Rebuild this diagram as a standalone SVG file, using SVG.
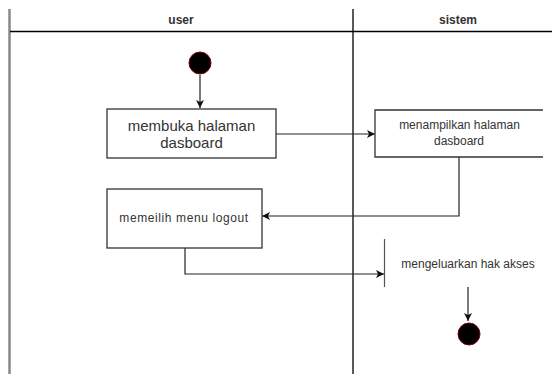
<svg xmlns="http://www.w3.org/2000/svg" width="552" height="374" viewBox="0 0 552 374">
  <style>
    .lane { stroke: #000; stroke-width: 1.3; fill: none; }
    .box { fill: #fff; stroke: #333; stroke-width: 1.3; }
    .edge { stroke: #222; stroke-width: 1.2; fill: none; }
    .txt { font-family: "Liberation Sans", Arial, sans-serif; fill: #333; text-anchor: middle; }
    .hdr { font-family: "Liberation Sans", Arial, sans-serif; font-size: 12px; font-weight: bold; fill: #333; text-anchor: middle; }
    .dot { fill: #000; stroke: #8b0010; stroke-width: 1; }
  </style>
  <defs>
    <marker id="arrow" markerWidth="10" markerHeight="10" refX="9" refY="5" orient="auto" markerUnits="userSpaceOnUse">
      <path d="M1,1 L9,5 L1,9 L3,5 Z" fill="#111"/>
    </marker>
  </defs>
  <rect width="552" height="374" fill="#fff"/>

  <!-- swimlanes -->
  <g id="lanes">
    <line x1="9.5" y1="9" x2="9.5" y2="374" stroke="#888" stroke-width="2.5"/>
    <line class="lane" x1="10" y1="31.5" x2="552" y2="31.5"/>
    <line class="lane" x1="353" y1="9" x2="353" y2="374"/>
    <text class="hdr" x="181" y="24">user</text>
    <text class="hdr" x="458" y="24">sistem</text>
  </g>

  <!-- connectors -->
  <g id="connectors">
    <line class="edge" x1="200" y1="75" x2="200" y2="108" marker-end="url(#arrow)"/>
    <line class="edge" x1="276" y1="134" x2="375" y2="134" marker-end="url(#arrow)"/>
    <polyline class="edge" points="459,157 459,216 262,216" marker-end="url(#arrow)"/>
    <polyline class="edge" points="185,248 185,274 384,274" marker-end="url(#arrow)"/>
    <line class="edge" x1="468" y1="287" x2="468" y2="321" marker-end="url(#arrow)"/>
  </g>

  <g id="start">
    <circle class="dot" cx="200" cy="63" r="11"/>
  </g>

  <g id="membuka-halaman">
    <rect class="box" x="107" y="109" width="169" height="49"/>
    <text class="txt" x="191.5" y="131" font-size="15" fill="#222">membuka halaman</text>
    <text class="txt" x="191.5" y="148" font-size="15" fill="#222">dasboard</text>
  </g>

  <g id="menampilkan-halaman">
    <path d="M543,110 H375 V157 H543" fill="#fff" stroke="#333" stroke-width="1.3"/>
    <text class="txt" x="459.5" y="129" font-size="12">menampilkan halaman</text>
    <text class="txt" x="459" y="145" font-size="12">dasboard</text>
  </g>

  <g id="memilih-menu-logout">
    <rect class="box" x="107" y="189" width="155" height="59"/>
    <text class="txt" x="184" y="222" font-size="12" letter-spacing="0.6">memeilih menu logout</text>
  </g>

  <g id="mengeluarkan-hak-akses">
    <line x1="384.5" y1="239" x2="384.5" y2="287" stroke="#555" stroke-width="1.2"/>
    <text class="txt" x="468" y="268" font-size="12">mengeluarkan hak akses</text>
  </g>

  <g id="end">
    <circle class="dot" cx="469" cy="334" r="11"/>
  </g>
</svg>
